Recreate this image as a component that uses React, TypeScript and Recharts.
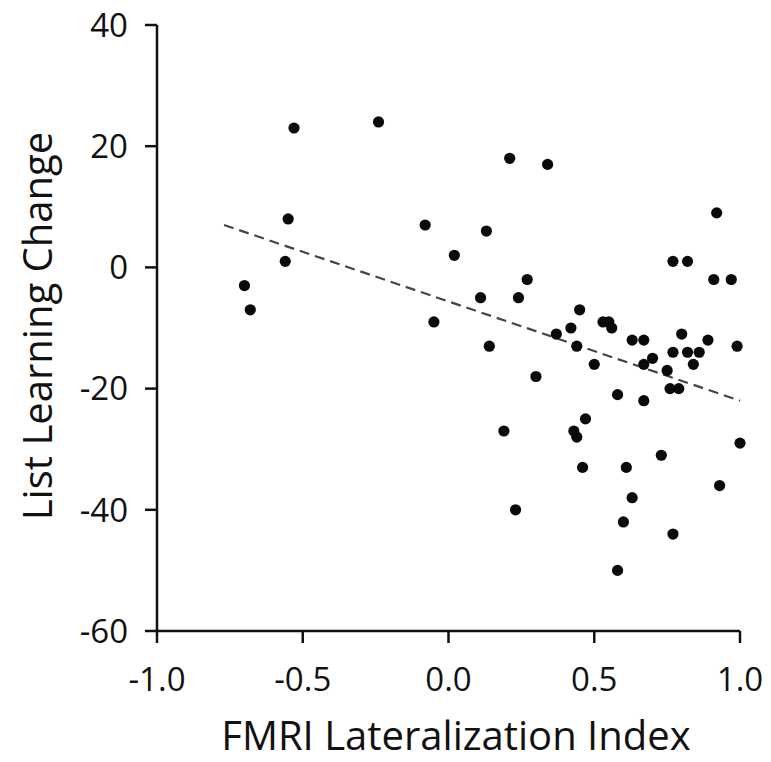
import React from "react";
import {
  ScatterChart, Scatter, XAxis, YAxis, ReferenceLine, Label
} from "recharts";

// lateralization index (x) and list learning change (y)
const lateralization = [
  -0.53, -0.24, -0.55, -0.08, 0.02, -0.56, -0.70, -0.68, -0.05, 0.21,
  0.34, 0.92, 0.13, 0.77, 0.82, 0.27, 0.91, 0.97, 0.11, 0.24,
  0.45, 0.53, 0.55, 0.56, 0.42, 0.37, 0.80, 0.14, 0.44, 0.63,
  0.67, 0.89, 0.99, 0.77, 0.82, 0.86, 0.70, 0.67, 0.50, 0.84,
  0.75, 0.30, 0.76, 0.79, 0.58, 0.67, 0.47, 0.19, 0.43, 0.44,
  1.00, 0.73, 0.46, 0.61, 0.93, 0.63, 0.23, 0.60, 0.77, 0.58,
];
const learningChange = [
  23, 24, 8, 7, 2, 1, -3, -7, -9, 18,
  17, 9, 6, 1, 1, -2, -2, -2, -5, -5,
  -7, -9, -9, -10, -10, -11, -11, -13, -13, -12,
  -12, -12, -13, -14, -14, -14, -15, -16, -16, -16,
  -17, -18, -20, -20, -21, -22, -25, -27, -27, -28,
  -29, -31, -33, -33, -36, -38, -40, -42, -44, -50,
];

// regression line end points
const fitX = [-0.77, 1.0];
const fitY = [7, -22];

const xTicks = [-1, -0.5, 0, 0.5, 1];
const yTicks = [-60, -40, -20, 0, 20, 40];

const points = lateralization.map((x, i) => ({ x, y: learningChange[i] }));

const FONT = "'Open Sans', sans-serif";
const tickStyle = { fontSize: 33, fill: "#111", fontFamily: FONT };

const Dot = (props: any) => (
  <circle cx={props.cx} cy={props.cy} r={5.6} fill="#0a0a0a" />
);

export default function App() {
  return (
    <div style={{ position: "absolute", left: 0, top: 0 }}>
      <ScatterChart
        width={771}
        height={762}
        margin={{ top: 25, right: 31, left: 0, bottom: 0 }}
      >
        <XAxis
          type="number"
          dataKey="x"
          domain={[-1, 1]}
          ticks={xTicks}
          tickFormatter={(v: number) => v.toFixed(1)}
          height={131}
          tickSize={12}
          tickMargin={25}
          tick={tickStyle}
          axisLine={{ stroke: "#111", strokeWidth: 2.5 }}
          tickLine={{ stroke: "#111", strokeWidth: 2.5 }}
        >
          <Label
            content={() => (
              <text
                x={456}
                y={750}
                textAnchor="middle"
                fontSize={40}
                fontFamily={FONT}
                fill="#111"
              >
                FMRI Lateralization Index
              </text>
            )}
          />
        </XAxis>
        <YAxis
          type="number"
          dataKey="y"
          domain={[-60, 40]}
          ticks={yTicks}
          width={157}
          tickSize={12}
          tickMargin={17}
          tick={tickStyle}
          axisLine={{ stroke: "#111", strokeWidth: 2.5 }}
          tickLine={{ stroke: "#111", strokeWidth: 2.5 }}
        >
          <Label
            content={() => (
              <text
                x={36}
                y={326}
                transform="rotate(-90 36 326)"
                textAnchor="middle"
                dominantBaseline="central"
                fontSize={40}
                fontFamily={FONT}
                fill="#111"
              >
                List Learning Change
              </text>
            )}
          />
        </YAxis>
        <ReferenceLine
          segment={[
            { x: fitX[0], y: fitY[0] },
            { x: fitX[1], y: fitY[1] },
          ]}
          stroke="#444"
          strokeWidth={2.2}
          strokeDasharray="10 6"
        />
        <Scatter data={points} shape={Dot} isAnimationActive={false} />
      </ScatterChart>
    </div>
  );
}
